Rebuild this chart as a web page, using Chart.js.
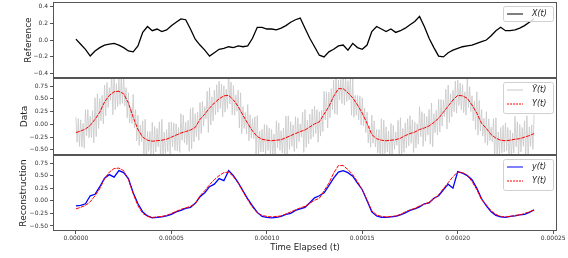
<!DOCTYPE html>
<html>
<head>
<meta charset="utf-8">
<script src="https://cdn.jsdelivr.net/npm/chart.js@4.4.0/dist/chart.umd.min.js"></script>
<style>
  html, body { margin: 0; padding: 0; background: #fff; }
  #wrap { position: relative; width: 568px; height: 258px; }
  #wrap canvas { position: absolute; left: 0; top: 0; }
</style>
</head>
<body>
<div id="wrap">
  <canvas id="c1" width="568" height="258"></canvas>
  <canvas id="c2" width="568" height="258"></canvas>
  <canvas id="c3" width="568" height="258"></canvas>
</div>
<script>
// ---------- Dados ----------
const STEP = 2.5e-6;          // passo da série "limpa"
const xTicks = [0, 0.00005, 0.0001, 0.00015, 0.0002, 0.00025];
const refTicks = [-0.4, -0.2, 0, 0.2, 0.4];
const sigTicks = [-0.5, -0.25, 0, 0.25, 0.5, 0.75];

// X(t) – referência
const refX = [0.01,-0.05,-0.11,-0.19,-0.13,-0.09,-0.06,-0.05,-0.04,-0.06,
  -0.09,-0.13,-0.14,-0.07,0.09,0.16,0.11,0.13,0.10,0.12,
  0.17,0.21,0.25,0.24,0.13,0.01,-0.06,-0.12,-0.19,-0.15,
  -0.11,-0.10,-0.08,-0.09,-0.07,-0.08,-0.07,0.02,0.15,0.15,
  0.13,0.13,0.12,0.14,0.17,0.21,0.24,0.26,0.14,0.02,
  -0.08,-0.18,-0.20,-0.14,-0.11,-0.07,-0.06,-0.12,-0.04,-0.09,
  -0.11,-0.06,0.10,0.16,0.13,0.10,0.13,0.09,0.11,0.14,
  0.18,0.22,0.28,0.16,0.02,-0.09,-0.19,-0.20,-0.15,-0.12,
  -0.10,-0.08,-0.07,-0.06,-0.04,-0.02,0.00,0.05,0.11,0.15,
  0.11,0.11,0.12,0.14,0.17,0.21,0.25];

// Y(t) – sinal
const signalY = [-0.16,-0.13,-0.09,-0.02,0.10,0.24,0.44,0.57,0.64,0.65,
  0.60,0.42,0.14,-0.10,-0.25,-0.31,-0.33,-0.32,-0.31,-0.29,
  -0.25,-0.21,-0.17,-0.14,-0.11,-0.06,0.10,0.20,0.32,0.42,
  0.50,0.56,0.57,0.48,0.35,0.18,0.02,-0.13,-0.24,-0.29,
  -0.31,-0.32,-0.31,-0.30,-0.26,-0.22,-0.18,-0.14,-0.11,-0.05,
  0.01,0.05,0.20,0.35,0.55,0.70,0.70,0.62,0.52,0.38,
  0.22,0.02,-0.20,-0.28,-0.31,-0.32,-0.31,-0.30,-0.27,-0.22,
  -0.18,-0.15,-0.10,-0.07,-0.03,0.04,0.12,0.24,0.36,0.48,
  0.57,0.56,0.51,0.38,0.22,0.02,-0.08,-0.20,-0.27,-0.31,
  -0.32,-0.31,-0.29,-0.28,-0.25,-0.22,-0.18];

// Ỹ(t) – observação ruidosa (passo/4)
const noisyY = [
  0.14,-0.35,0.11,-0.43, 0.09,-0.44,0.02,-0.47, 0.29,-0.22,0.29,-0.26, 0.16,-0.26,0.27,-0.36,
  0.52,-0.24,0.60,-0.08, 0.51,0.07,0.57,0.01, 0.77,0.17,0.82,0.33, 0.72,0.47,0.98,0.19,
  1.04,0.29,0.80,0.35, 0.90,0.39,0.91,0.41, 0.95,0.36,0.72,0.13, 0.62,0.03,0.33,0.02,
  0.59,-0.07,0.29,-0.32, 0.18,-0.41,-0.01,-0.34, 0.07,-0.65,0.10,-0.72, -0.14,-0.53,-0.14,-0.61,
  0.04,-0.63,-0.04,-0.54, -0.08,-0.44,0.05,-0.71, 0.10,-0.66,-0.15,-0.57, -0.10,-0.53,0.04,-0.58,
  0.05,-0.44,0.03,-0.51, 0.01,-0.52,-0.06,-0.55, 0.21,-0.31,0.18,-0.36, 0.04,-0.40,0.08,-0.53,
  0.31,-0.48,0.33,-0.34, 0.21,-0.24,0.24,-0.31, 0.43,-0.18,0.45,-0.03, 0.35,0.11,0.65,-0.16,
  0.72,-0.01,0.54,0.07, 0.67,0.19,0.78,0.24, 0.85,0.31,0.79,0.15, 0.76,0.24,0.69,0.31,
  1.02,0.40,0.83,0.19, 0.76,0.18,0.58,0.26, 0.67,-0.07,0.62,-0.18, 0.35,-0.08,0.24,-0.19,
  0.39,-0.32,0.19,-0.27, 0.11,-0.28,0.15,-0.58, 0.17,-0.60,-0.13,-0.54, -0.10,-0.54,0.00,-0.61,
  -0.01,-0.51,-0.07,-0.60, -0.10,-0.64,-0.19,-0.68, 0.07,-0.46,0.03,-0.51, -0.12,-0.56,-0.07,-0.68,
  0.16,-0.63,0.17,-0.49, 0.05,-0.43,-0.01,-0.53, 0.15,-0.47,0.13,-0.34, 0.01,-0.25,0.24,-0.55,
  0.29,-0.45,0.08,-0.38, 0.20,-0.29,0.30,-0.24, 0.36,-0.18,0.29,-0.35, 0.25,-0.23,0.28,-0.14,
  0.65,0.09,0.64,-0.07, 0.63,0.13,0.70,0.29, 0.87,0.21,1.06,0.19, 0.87,0.48,0.88,0.41,
  1.07,0.38,0.92,0.45, 0.86,0.48,0.91,0.18, 0.93,0.14,0.57,0.18, 0.57,0.09,0.56,-0.01,
  0.52,-0.03,0.32,-0.16, 0.24,-0.36,-0.03,-0.45, 0.18,-0.37,0.07,-0.44, -0.10,-0.56,-0.10,-0.70,
  0.11,-0.69,0.08,-0.57, -0.05,-0.54,-0.13,-0.65, 0.02,-0.61,-0.02,-0.49, -0.15,-0.41,0.08,-0.71,
  0.13,-0.61,-0.08,-0.55, 0.03,-0.46,0.11,-0.42, 0.17,-0.37,0.09,-0.55, 0.05,-0.46,0.01,-0.39,
  0.35,-0.24,0.25,-0.43, 0.21,-0.33,0.16,-0.21, 0.29,-0.39,0.42,-0.44, 0.21,-0.16,0.28,-0.21,
  0.49,-0.15,0.49,-0.03, 0.48,0.15,0.69,-0.09, 0.77,0.04,0.60,0.15, 0.67,0.25,0.85,0.22,
  0.87,0.37,0.81,0.29, 0.78,0.23,0.64,0.18, 0.89,0.33,0.74,0.25, 0.56,0.07,0.46,-0.10,
  0.64,-0.21,0.47,-0.13, 0.29,-0.23,0.12,-0.36, 0.25,-0.41,0.11,-0.32, -0.05,-0.34,0.11,-0.66,
  0.13,-0.63,-0.15,-0.59, -0.06,-0.56,-0.02,-0.54, 0.03,-0.52,-0.06,-0.70, -0.11,-0.62,-0.17,-0.56,
  0.16,-0.44,0.05,-0.63, 0.00,-0.54,-0.06,-0.43, 0.07,-0.62,0.17,-0.68, -0.05,-0.43,-0.01,-0.49,
  0.19];

// y(t) – reconstrução
const reconY = [-0.10,-0.09,-0.06,0.10,0.13,0.28,0.45,0.52,0.47,0.60,
  0.56,0.44,0.16,-0.06,-0.22,-0.30,-0.34,-0.33,-0.32,-0.30,
  -0.27,-0.22,-0.19,-0.15,-0.13,-0.05,0.08,0.16,0.28,0.33,
  0.44,0.40,0.60,0.50,0.36,0.20,0.04,-0.10,-0.23,-0.31,
  -0.33,-0.34,-0.33,-0.31,-0.27,-0.25,-0.19,-0.16,-0.13,-0.04,
  0.06,0.10,0.16,0.30,0.45,0.57,0.60,0.56,0.49,0.35,
  0.22,0.00,-0.22,-0.30,-0.33,-0.33,-0.32,-0.31,-0.28,-0.24,
  -0.19,-0.16,-0.12,-0.06,-0.04,0.05,0.10,0.22,0.33,0.25,
  0.58,0.55,0.50,0.42,0.25,0.04,-0.10,-0.22,-0.29,-0.32,
  -0.33,-0.31,-0.30,-0.28,-0.27,-0.23,-0.18];

// ---------- Utilidades ----------
const FAMILY = '"DejaVu Sans", sans-serif';
const pts = (vals, step) => vals.map((v, i) => ({ x: i * step, y: v }));
const minus = (s) => s.replace('-', '\u2212');

// moldura + legenda dentro do painel
const panelDeco = {
  id: 'panelDeco',
  afterDraw(chart, args, o) {
    const ctx = chart.ctx, a = chart.chartArea;
    ctx.save();
    ctx.strokeStyle = '#555';
    ctx.lineWidth = 1;
    ctx.strokeRect(Math.round(a.left) + 0.5, Math.round(a.top) + 0.5,
      Math.round(a.right - a.left) - 1, Math.round(a.bottom - a.top) - 1);

    const n = o.items.length;
    const w = 50, h = 16 * n - 1;
    const x0 = a.right - 4 - w, y0 = a.top + 4;
    ctx.beginPath();
    ctx.roundRect(x0 + 0.5, y0 + 0.5, w, h, 2);
    ctx.fillStyle = 'rgba(255,255,255,0.85)';
    ctx.fill();
    ctx.strokeStyle = '#d0d0d0';
    ctx.stroke();
    ctx.font = 'italic 8px ' + FAMILY;
    ctx.textBaseline = 'middle';
    o.items.forEach((it, i) => {
      const y = y0 + 8 + 14 * i;
      ctx.beginPath();
      ctx.strokeStyle = it.color;
      ctx.lineWidth = it.width;
      ctx.setLineDash(it.dash || []);
      ctx.moveTo(x0 + 4, y); ctx.lineTo(x0 + 20, y);
      ctx.stroke();
      ctx.setLineDash([]);
      ctx.fillStyle = '#222';
      ctx.fillText(it.label, x0 + 29, y);
    });
    ctx.restore();
  }
};

function panel(id, cfg){
  const showX = !!cfg.showX;
  return new Chart(document.getElementById(id), {
    type: 'line',
    data: { datasets: cfg.datasets },
    options: {
      responsive: false,
      animation: false,
      devicePixelRatio: 1,
      layout: { padding: { left: cfg.padLeft, right: 11, top: cfg.top, bottom: cfg.bottom } },
      elements: { point: { radius: 0 }, line: { tension: 0 } },
      plugins: {
        legend: { display: false },
        tooltip: { enabled: false },
        panelDeco: { items: cfg.legend }
      },
      scales: {
        x: {
          type: 'linear',
          display: showX,
          min: -0.000012,
          max: 0.000252,
          afterBuildTicks: (s) => { s.ticks = xTicks.map(v => ({ value: v })); },
          afterFit: (s) => { s.height = showX ? 27 : 0; },
          border: { display: false },
          grid: { drawOnChartArea: false, tickLength: 3, color: '#555' },
          ticks: { font: { size: 6, family: FAMILY }, color: '#333', padding: 1, maxRotation: 0,
                   autoSkip: false, callback: (v) => v.toFixed(5) },
          title: { display: true, text: 'Time Elapsed (t)', color: '#222',
                   font: { size: 8.5, family: FAMILY }, padding: { top: 0, bottom: 5 } }
        },
        y: {
          min: cfg.min,
          max: cfg.max,
          afterBuildTicks: (s) => { s.ticks = cfg.ticks.map(v => ({ value: v })); },
          afterFit: (s) => { s.width = 53 - cfg.padLeft; s.paddingTop = 0; s.paddingBottom = 0; },
          border: { display: false },
          grid: { drawOnChartArea: false, tickLength: 3, color: '#555' },
          ticks: { font: { size: 6, family: FAMILY }, color: '#333', padding: 2, autoSkip: false,
                   callback: (v) => minus(v.toFixed(cfg.dec)) },
          title: { display: true, text: cfg.title, color: '#222',
                   font: { size: 9, family: FAMILY }, padding: { top: 4, bottom: 0 } }
        }
      }
    },
    plugins: [panelDeco]
  });
}

panel('c1', {
  top: 2, bottom: 180, padLeft: 19, title: 'Reference',
  min: -0.45, max: 0.45, ticks: refTicks, dec: 1,
  datasets: [
    { data: pts(refX, STEP), borderColor: '#000', borderWidth: 1.3 }
  ],
  legend: [ { label: 'X(t)', color: '#000', width: 1 } ]
});

panel('c2', {
  top: 78, bottom: 103, padLeft: 15, title: 'Data',
  min: -0.6, max: 0.91, ticks: sigTicks, dec: 2,
  datasets: [
    { data: pts(signalY, STEP), borderColor: '#ff0000', borderWidth: 1, borderDash: [4, 1], order: 0 },
    { data: pts(noisyY, STEP / 4), borderColor: '#c8c8c8', borderWidth: 0.8, order: 1 }
  ],
  legend: [
    { label: '\u1EF8(t)', color: '#c8c8c8', width: 1 },
    { label: 'Y(t)', color: '#ff0000', width: 1, dash: [2, 1] }
  ]
});

panel('c3', {
  top: 155, bottom: 0, padLeft: 14, title: 'Reconstruction', showX: true,
  min: -0.6, max: 0.91, ticks: sigTicks, dec: 2,
  datasets: [
    { data: pts(signalY, STEP), borderColor: '#ff0000', borderWidth: 1, borderDash: [4, 1], order: 0 },
    { data: pts(reconY, STEP), borderColor: '#0000ff', borderWidth: 1.3, order: 1 }
  ],
  legend: [
    { label: 'y(t)', color: '#0000ff', width: 1 },
    { label: 'Y(t)', color: '#ff0000', width: 1, dash: [2, 1] }
  ]
});
</script>
</body>
</html>
